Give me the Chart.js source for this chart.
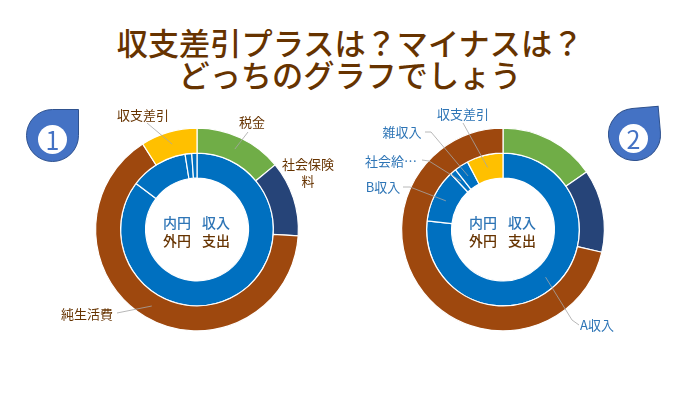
<!DOCTYPE html>
<html lang="ja">
<head>
<meta charset="utf-8">
<script src="https://cdn.jsdelivr.net/npm/chart.js@4"></script>
<style>
  html, body { margin: 0; padding: 0; background: #fff; }
  body { position: relative; width: 700px; height: 394px; overflow: hidden; font-family: "Noto Sans CJK JP", sans-serif; }
  h1 { position: absolute; left: 0; top: 26px; width: 700px; margin: 0; text-align: center; font-size: 31.2px; font-weight: 500; line-height: 32px; color: #663300; }
  canvas { position: absolute; top: 0; }
  #chart1 { left: 0; }
  #chart2 { left: 350px; }
  .badge { position: absolute; width: 53px; height: 53px; box-sizing: border-box; background: #4472C4; border: 1px solid #2F528F; border-radius: 50% 0 50% 50%; }
  #badge1 { left: 26px; top: 109px; }
  #badge2 { left: 608px; top: 108px; transform: rotate(-5deg); }
  .num { position: absolute; width: 29px; height: 29px; border-radius: 50%; background: #fff; color: #4472C4; font-size: 25px; line-height: 28px; text-align: center; }
  #num1 { left: 38px; top: 125px; }
  #num2 { left: 619px; top: 124px; }
</style>
</head>
<body>
<h1>収支差引プラスは？マイナスは？<br>どっちのグラフでしょう</h1>
<canvas id="chart1" width="350" height="394"></canvas>
<canvas id="chart2" width="350" height="394"></canvas>
<div class="badge" id="badge1"></div><div class="num" id="num1">1</div>
<div class="badge" id="badge2"></div><div class="num" id="num2">2</div>
<script>
// 外円 = 支出, 内円 = 収入
const spendNames1 = ["税金", "社会保険料", "純生活費", "収支差引"];
const spendValues1 = [14, 12, 65, 9];
const incomeNames1 = ["A収入", "B収入", "社会給付", "雑収入"];
const incomeValues1 = [85.3, 12.2, 1.4, 1.1];

const spendNames2 = ["税金", "社会保険料", "純生活費"];
const spendValues2 = [15.4, 13.2, 71.4];
const incomeNames2 = ["A収入", "B収入", "社会給付", "雑収入", "収支差引"];
const incomeValues2 = [76.8, 11.2, 1.3, 3, 7.7];

const BROWN = "#663300";
const BLUE = "#2E75B6";
const FONT = '13px "Noto Sans CJK JP"';

// ラベルの置き場所 (ring 0=外, 1=内)
const labels1 = [
  { ring: 0, i: 0, text: ["税金"], x: 252, y: 122, color: BROWN, line: [[248, 132]] },
  { ring: 0, i: 1, text: ["社会保険", "料"], x: 308, y: 164, color: BROWN, line: null },
  { ring: 0, i: 2, text: ["純生活費"], x: 87, y: 314, color: BROWN, line: [[117, 313]] },
  { ring: 0, i: 3, text: ["収支差引"], x: 143, y: 115, color: BROWN, line: [[147, 123]] }
];
const labels2 = [
  { ring: 1, i: 0, text: ["A収入"], x: 247, y: 325, color: BLUE, line: [[229, 325], [222, 320]] },
  { ring: 1, i: 1, text: ["B収入"], x: 33, y: 187, color: BLUE, line: [[53, 187], [60, 187]] },
  { ring: 1, i: 2, text: ["社会給…"], x: 41, y: 161, color: BLUE, line: [[72, 160], [79, 161]] },
  { ring: 1, i: 3, text: ["雑収入"], x: 52, y: 132, color: BLUE, line: [[75, 132], [81, 132]] },
  { ring: 1, i: 4, text: ["収支差引"], x: 113, y: 114, color: BLUE, line: [[113, 123]] }
];

const sliceLabels = {
  id: "sliceLabels",
  afterDraw(chart, args, opts) {
    const ctx = chart.ctx;
    ctx.save();
    ctx.font = FONT;
    ctx.textAlign = "center";
    ctx.textBaseline = "middle";
    opts.items.forEach(item => {
      const arc = chart.getDatasetMeta(item.ring).data[item.i];
      const p = arc.tooltipPosition();
      if (item.line) {
        ctx.strokeStyle = "#A6A6A6";
        ctx.lineWidth = 0.8;
        ctx.beginPath();
        ctx.moveTo(p.x, p.y);
        item.line.slice().reverse().forEach(q => ctx.lineTo(q[0], q[1]));
        ctx.stroke();
      }
      ctx.fillStyle = item.color;
      item.text.forEach((t, n) => ctx.fillText(t, item.x, item.y + n * 17));
    });
    // 真ん中の凡例
    const cx = chart.getDatasetMeta(0).data[0].x;
    const cy = chart.getDatasetMeta(0).data[0].y;
    ctx.font = '500 14px "Noto Sans CJK JP"';
    ctx.fillStyle = BLUE;
    ctx.fillText("内円", cx - 20, cy - 7);
    ctx.fillText("収入", cx + 19, cy - 7);
    ctx.fillStyle = BROWN;
    ctx.fillText("外円", cx - 20, cy + 11);
    ctx.fillText("支出", cx + 19, cy + 11);
    ctx.restore();
  }
};

function makeChart(id, spend, spendColors, income, incomeColors, items, padding) {
  return new Chart(document.getElementById(id), {
    type: "doughnut",
    data: {
      datasets: [
        { label: "支出", data: spend, backgroundColor: spendColors, borderColor: "#fff", borderWidth: 1.2 },
        { label: "収入", data: income, backgroundColor: incomeColors, borderColor: "#fff", borderWidth: 1.2 }
      ]
    },
    options: {
      responsive: false,
      animation: false,
      cutout: "50.7%",
      layout: { padding: padding },
      plugins: { legend: { display: false }, tooltip: { enabled: false }, sliceLabels: { items: items } }
    },
    plugins: [sliceLabels]
  });
}

makeChart("chart1", spendValues1, ["#70AD47", "#264478", "#9E480E", "#FFC000"],
  incomeValues1, ["#0070C0", "#0070C0", "#0070C0", "#0070C0"], labels1,
  { left: 95, right: 51, top: 127, bottom: 62 });
makeChart("chart2", spendValues2, ["#70AD47", "#264478", "#9E480E"],
  incomeValues2, ["#0070C0", "#0070C0", "#0070C0", "#0070C0", "#FFC000"], labels2,
  { left: 51, right: 95, top: 127, bottom: 62 });
</script>
</body>
</html>
